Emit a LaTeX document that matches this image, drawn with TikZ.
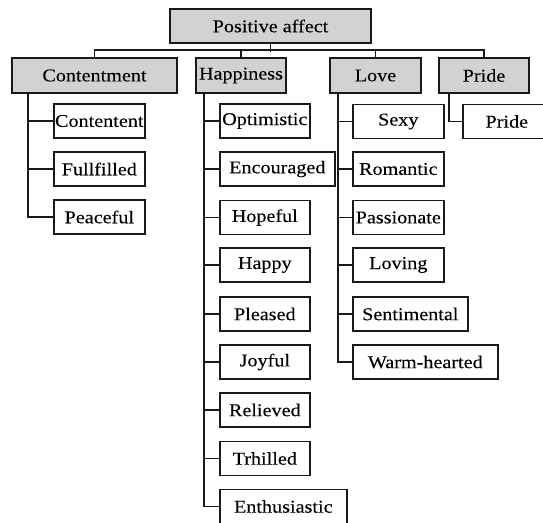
\documentclass[tikz,border=0pt]{standalone}
\usepackage{fontspec}
\setmainfont[FakeStretch=1.12,FakeBold=0.1]{Liberation Serif}
\begin{document}
\begin{tikzpicture}[x=1pt,y=-1pt,
  line width=1.6pt, draw=black!90,
  base/.style={draw=black!90, line width=1.6pt, rectangle, inner sep=0pt, font=\fontsize{18}{20}\selectfont, text=black},
  head/.style={base, fill=gray!35, minimum height=35pt},
  leaf/.style={base, fill=white, minimum height=34pt, anchor=west},
  conn/.style={draw=black!90, line width=1.6pt}]
\useasboundingbox (0,0) rectangle (543,522);
\clip (0,0) rectangle (543,522);
% root
\node[head, minimum width=201pt, minimum height=34pt] (root) at (270.5,26) {Positive affect};
% level 1
\node[head, minimum width=165pt] (cont) at (94.5,75.5) {Contentment};
\node[head, minimum width=90pt] (hap) at (241,75.5) {Happiness};
\node[head, minimum width=91pt] (love) at (375.5,75.5) {Love};
\node[head, minimum width=90pt] (pride) at (484,75.5) {Pride};
% bus
\draw[conn] (root.south) -- ++(0,8);
\draw[conn] (cont.north) -- ++(0,-7) -| (pride.north);
\draw[conn] (hap.north) -- ++(0,-7);
\draw[conn] (love.north) -- ++(0,-7);
% contentment children
\node[leaf, minimum width=91pt] (c1) at (53,121) {Contentent};
\node[leaf, minimum width=91pt] (c2) at (53,169) {Fullfilled};
\node[leaf, minimum width=91pt] (c3) at (53,217) {Peaceful};
\coordinate (cs) at ([xshift=16.5pt]cont.south west);
\draw[conn] (cs) |- (c3.west);
\foreach \n in {c1,c2} \draw[conn] (\n.west) -- (\n.west -| cs);
% happiness children
\node[leaf, minimum width=90pt] (h1) at (219,121) {Optimistic};
\node[leaf, minimum width=115pt] (h2) at (219,169) {Encouraged};
\node[leaf, minimum width=90pt] (h3) at (219,217.5) {Hopeful};
\node[leaf, minimum width=90pt] (h4) at (219,265) {Happy};
\node[leaf, minimum width=90pt] (h5) at (219,314) {Pleased};
\node[leaf, minimum width=90pt] (h6) at (219,362) {Joyful};
\node[leaf, minimum width=90pt] (h7) at (219,410) {Relieved};
\node[leaf, minimum width=90pt] (h8) at (219,458.5) {Trhilled};
\node[leaf, minimum width=127pt] (h9) at (219,506.5) {Enthusiastic};
\coordinate (hs) at ([xshift=9pt]hap.south west);
\draw[conn] (hs) |- (h9.west);
\foreach \n in {h1,h2,h3,h4,h5,h6,h7,h8} \draw[conn] (\n.west) -- (\n.west -| hs);
% love children
\node[leaf, minimum width=91pt] (l1) at (352,121.5) {Sexy};
\node[leaf, minimum width=91pt] (l2) at (352,169) {Romantic};
\node[leaf, minimum width=91pt] (l3) at (352,217.5) {Passionate};
\node[leaf, minimum width=91pt] (l4) at (352,265) {Loving};
\node[leaf, minimum width=115pt] (l5) at (352,314) {Sentimental};
\node[leaf, minimum width=145pt] (l6) at (352,362) {Warm-hearted};
\coordinate (ls) at ([xshift=9pt]love.south west);
\draw[conn] (ls) |- (l6.west);
\foreach \n in {l1,l2,l3,l4,l5} \draw[conn] (\n.west) -- (\n.west -| ls);
% pride child
\node[leaf, minimum width=88pt] (p1) at (462,121.5) {Pride};
\coordinate (ps) at ([xshift=11pt]pride.south west);
\draw[conn] (ps) |- (p1.west);
\end{tikzpicture}
\end{document}
